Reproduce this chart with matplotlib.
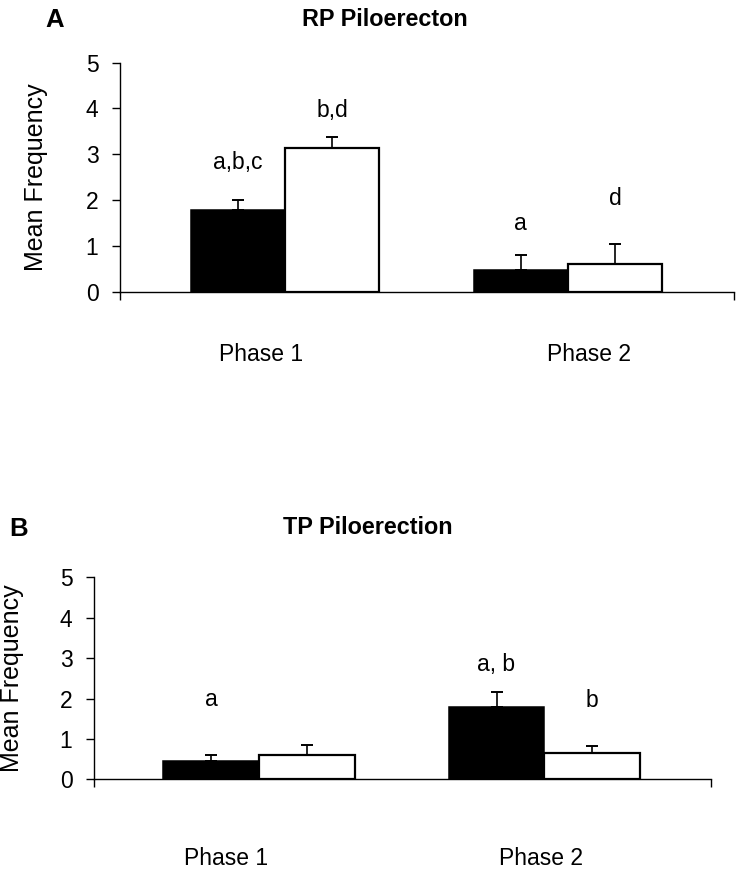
import matplotlib
matplotlib.use('Agg')
import matplotlib.pyplot as plt
import numpy as np

plt.rcParams['font.family'] = ['Liberation Sans', 'DejaVu Sans']

# Data
phases = ['Phase 1', 'Phase 2']

rp_black = [1.78, 0.47]
rp_black_err = [0.22, 0.33]
rp_white = [3.13, 0.60]
rp_white_err = [0.25, 0.43]

tp_black = [0.45, 1.78]
tp_black_err = [0.15, 0.37]
tp_white = [0.60, 0.64]
tp_white_err = [0.25, 0.19]

# significance letters: (text, series, phase index, y)
rp_letters = [('a,b,c', 'black', 0, 2.82), ('b,d', 'white', 0, 3.95),
              ('a', 'black', 1, 1.49), ('d', 'white', 1, 2.04)]
tp_letters = [('a', 'black', 0, 1.97), ('a, b', 'black', 1, 2.83),
              ('b', 'white', 1, 1.95)]

FS = 16.5
fig = plt.figure(figsize=(7.39, 8.73), dpi=100)


def panel(rect, black, black_err, white, white_err, letters, width, xlim,
          label_pos, label_pad, ylab_x):
    ax = fig.add_axes(rect)
    x = np.arange(len(phases))
    xb = x - width / 2
    xw = x + width / 2
    ax.bar(xb, black, width, color='black', edgecolor='black', linewidth=1.1, zorder=2)
    ax.bar(xw, white, width, color='white', edgecolor='black', linewidth=1.6, zorder=2)
    ax.errorbar(xb, black, yerr=[np.zeros(len(black)), black_err], fmt='none',
                ecolor='black', elinewidth=1.2, capsize=4, capthick=1.4, zorder=3)
    ax.errorbar(xw, white, yerr=[np.zeros(len(white)), white_err], fmt='none',
                ecolor='black', elinewidth=1.2, capsize=4, capthick=1.4, zorder=3)
    for txt, series, i, y in letters:
        xx = xb[i] if series == 'black' else xw[i]
        ax.text(xx, y, txt, ha='center', va='center', fontsize=FS)

    ax.set_ylim(0, 5)
    ax.set_xlim(*xlim)
    ax.set_yticks(range(6))
    ax.tick_params(axis='y', length=5.5, width=1, pad=10, labelsize=FS, direction='out')
    ax.set_xticks(label_pos)
    ax.set_xticklabels(phases, fontsize=FS)
    ax.tick_params(axis='x', which='major', length=0, pad=label_pad)
    ax.set_xticks(list(xlim), minor=True)
    ax.tick_params(axis='x', which='minor', length=6, width=1, direction='out')
    for s in ['top', 'right']:
        ax.spines[s].set_visible(False)
    for s in ['left', 'bottom']:
        ax.spines[s].set_linewidth(1)
    ax.set_ylabel('Mean Frequency', fontsize=18)
    ax.yaxis.set_label_coords(ylab_x, 0.5)
    return ax


axA = panel([0.1624, 0.6659, 0.8309, 0.2623], rp_black, rp_black_err,
            rp_white, rp_white_err, rp_letters, 0.333, (-0.583, 1.587),
            [-0.085, 1.074], 37, -0.117)
axB = panel([0.1272, 0.1073, 0.8349, 0.2314], tp_black, tp_black_err,
            tp_white, tp_white_err, tp_letters, 0.335, (-0.578, 1.584),
            [-0.116, 0.99], 49, -0.1135)

# titles and panel letters
fig.text(55 / 739, 1 - 20 / 873, 'A', fontsize=18.5, weight='bold', ha='center', va='center')
fig.text(385 / 739, 1 - 20 / 873, 'RP Piloerecton', fontsize=16.8, weight='bold',
         ha='center', va='center')
fig.text(19 / 739, 1 - 529 / 873, 'B', fontsize=18.5, weight='bold', ha='center', va='center')
fig.text(368 / 739, 1 - 528 / 873, 'TP Piloerection', fontsize=16.8, weight='bold',
         ha='center', va='center')

plt.savefig('out.png', dpi=100, facecolor='white')
plt.close()
